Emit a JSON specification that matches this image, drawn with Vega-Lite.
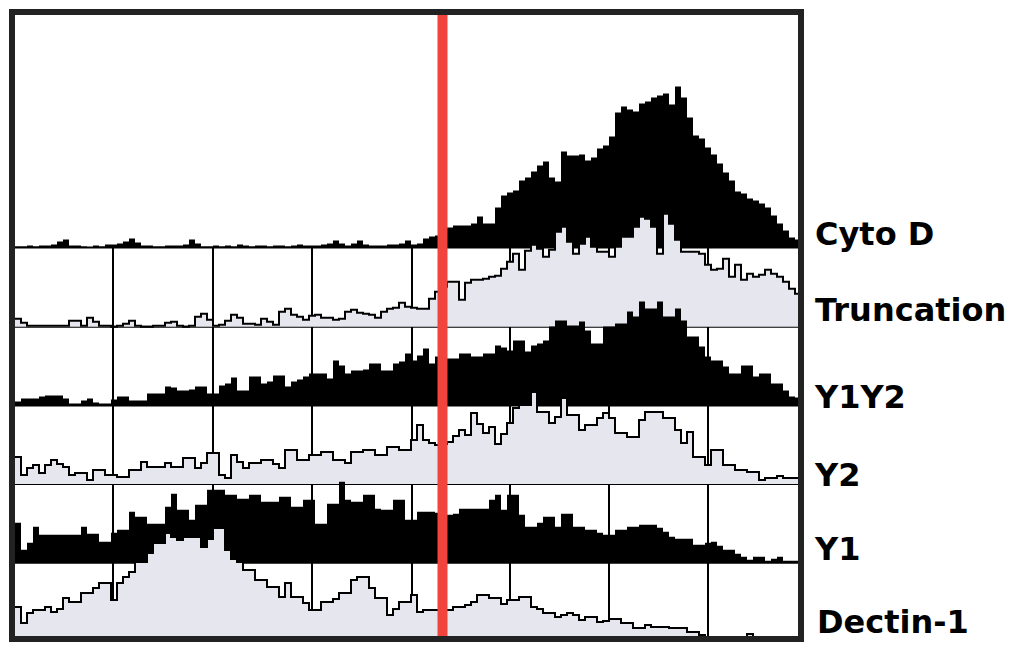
{
  "$schema": "https://vega.github.io/schema/vega-lite/v6.json",
  "width": 789,
  "height": 627,
  "autosize": {"type": "none"},
  "padding": {"left": 12, "top": 12, "right": 218, "bottom": 7},
  "background": "white",
  "config": {"view": {"stroke": null}, "axis": {"disable": true}},
  "data": {"values": [
    {"x":0,"CytoD":0,"Truncation":8,"Y1Y2":3,"Y2":27,"Y1":40,"Dectin1":32},
    {"x":6,"CytoD":1,"Truncation":8,"Y1Y2":4,"Y2":27,"Y1":40,"Dectin1":32},
    {"x":12,"CytoD":1,"Truncation":4,"Y1Y2":7,"Y2":9,"Y1":13,"Dectin1":16},
    {"x":18,"CytoD":2,"Truncation":1,"Y1Y2":7,"Y2":16,"Y1":20,"Dectin1":26},
    {"x":24,"CytoD":1,"Truncation":1,"Y1Y2":7,"Y2":19,"Y1":36,"Dectin1":29},
    {"x":30,"CytoD":2,"Truncation":1,"Y1Y2":9,"Y2":11,"Y1":28,"Dectin1":29},
    {"x":36,"CytoD":2,"Truncation":1,"Y1Y2":10,"Y2":19,"Y1":28,"Dectin1":32},
    {"x":42,"CytoD":3,"Truncation":1,"Y1Y2":10,"Y2":24,"Y1":28,"Dectin1":27},
    {"x":48,"CytoD":6,"Truncation":1,"Y1Y2":10,"Y2":20,"Y1":28,"Dectin1":30},
    {"x":54,"CytoD":8,"Truncation":1,"Y1Y2":7,"Y2":17,"Y1":28,"Dectin1":41},
    {"x":60,"CytoD":2,"Truncation":6,"Y1Y2":2,"Y2":9,"Y1":28,"Dectin1":37},
    {"x":66,"CytoD":2,"Truncation":6,"Y1Y2":2,"Y2":11,"Y1":28,"Dectin1":37},
    {"x":72,"CytoD":1,"Truncation":1,"Y1Y2":5,"Y2":11,"Y1":36,"Dectin1":46},
    {"x":78,"CytoD":0,"Truncation":9,"Y1Y2":7,"Y2":4,"Y1":29,"Dectin1":46},
    {"x":84,"CytoD":2,"Truncation":5,"Y1Y2":3,"Y2":14,"Y1":29,"Dectin1":51},
    {"x":90,"CytoD":1,"Truncation":1,"Y1Y2":2,"Y2":14,"Y1":21,"Dectin1":56},
    {"x":96,"CytoD":3,"Truncation":1,"Y1Y2":2,"Y2":9,"Y1":21,"Dectin1":56},
    {"x":102,"CytoD":3,"Truncation":0,"Y1Y2":6,"Y2":9,"Y1":30,"Dectin1":39},
    {"x":108,"CytoD":4,"Truncation":1,"Y1Y2":9,"Y2":7,"Y1":33,"Dectin1":56},
    {"x":114,"CytoD":6,"Truncation":3,"Y1Y2":9,"Y2":7,"Y1":33,"Dectin1":62},
    {"x":120,"CytoD":9,"Truncation":6,"Y1Y2":5,"Y2":14,"Y1":51,"Dectin1":67},
    {"x":126,"CytoD":5,"Truncation":1,"Y1Y2":5,"Y2":14,"Y1":46,"Dectin1":77},
    {"x":132,"CytoD":2,"Truncation":0,"Y1Y2":5,"Y2":22,"Y1":46,"Dectin1":77},
    {"x":138,"CytoD":2,"Truncation":0,"Y1Y2":12,"Y2":17,"Y1":39,"Dectin1":86},
    {"x":144,"CytoD":1,"Truncation":1,"Y1Y2":12,"Y2":17,"Y1":39,"Dectin1":96},
    {"x":150,"CytoD":1,"Truncation":1,"Y1Y2":12,"Y2":17,"Y1":39,"Dectin1":96},
    {"x":156,"CytoD":2,"Truncation":4,"Y1Y2":19,"Y2":21,"Y1":56,"Dectin1":106},
    {"x":162,"CytoD":2,"Truncation":5,"Y1Y2":18,"Y2":17,"Y1":69,"Dectin1":102},
    {"x":168,"CytoD":2,"Truncation":1,"Y1Y2":15,"Y2":17,"Y1":53,"Dectin1":99},
    {"x":174,"CytoD":3,"Truncation":0,"Y1Y2":15,"Y2":26,"Y1":53,"Dectin1":102},
    {"x":180,"CytoD":8,"Truncation":1,"Y1Y2":16,"Y2":26,"Y1":43,"Dectin1":102},
    {"x":186,"CytoD":4,"Truncation":10,"Y1Y2":19,"Y2":16,"Y1":58,"Dectin1":102},
    {"x":192,"CytoD":1,"Truncation":13,"Y1Y2":19,"Y2":21,"Y1":58,"Dectin1":92},
    {"x":198,"CytoD":1,"Truncation":7,"Y1Y2":12,"Y2":31,"Y1":73,"Dectin1":100},
    {"x":204,"CytoD":2,"Truncation":1,"Y1Y2":12,"Y2":31,"Y1":73,"Dectin1":111},
    {"x":210,"CytoD":1,"Truncation":2,"Y1Y2":20,"Y2":9,"Y1":73,"Dectin1":111},
    {"x":216,"CytoD":2,"Truncation":6,"Y1Y2":22,"Y2":6,"Y1":68,"Dectin1":89},
    {"x":222,"CytoD":1,"Truncation":12,"Y1Y2":28,"Y2":29,"Y1":68,"Dectin1":80},
    {"x":228,"CytoD":3,"Truncation":9,"Y1Y2":15,"Y2":22,"Y1":64,"Dectin1":77},
    {"x":234,"CytoD":2,"Truncation":3,"Y1Y2":15,"Y2":16,"Y1":64,"Dectin1":69},
    {"x":240,"CytoD":1,"Truncation":3,"Y1Y2":29,"Y2":21,"Y1":68,"Dectin1":69},
    {"x":246,"CytoD":2,"Truncation":2,"Y1Y2":29,"Y2":21,"Y1":68,"Dectin1":59},
    {"x":252,"CytoD":2,"Truncation":8,"Y1Y2":22,"Y2":24,"Y1":61,"Dectin1":59},
    {"x":258,"CytoD":1,"Truncation":5,"Y1Y2":24,"Y2":24,"Y1":61,"Dectin1":52},
    {"x":264,"CytoD":2,"Truncation":2,"Y1Y2":30,"Y2":20,"Y1":61,"Dectin1":52},
    {"x":270,"CytoD":2,"Truncation":15,"Y1Y2":30,"Y2":16,"Y1":66,"Dectin1":42},
    {"x":276,"CytoD":1,"Truncation":18,"Y1Y2":19,"Y2":34,"Y1":66,"Dectin1":56},
    {"x":282,"CytoD":2,"Truncation":12,"Y1Y2":24,"Y2":34,"Y1":56,"Dectin1":42},
    {"x":288,"CytoD":3,"Truncation":10,"Y1Y2":26,"Y2":24,"Y1":56,"Dectin1":42},
    {"x":294,"CytoD":2,"Truncation":7,"Y1Y2":29,"Y2":24,"Y1":63,"Dectin1":36},
    {"x":300,"CytoD":2,"Truncation":11,"Y1Y2":32,"Y2":29,"Y1":63,"Dectin1":29},
    {"x":306,"CytoD":2,"Truncation":12,"Y1Y2":32,"Y2":29,"Y1":39,"Dectin1":29},
    {"x":312,"CytoD":3,"Truncation":9,"Y1Y2":32,"Y2":32,"Y1":39,"Dectin1":37},
    {"x":318,"CytoD":4,"Truncation":9,"Y1Y2":27,"Y2":32,"Y1":59,"Dectin1":37},
    {"x":324,"CytoD":7,"Truncation":7,"Y1Y2":45,"Y2":24,"Y1":59,"Dectin1":40},
    {"x":330,"CytoD":4,"Truncation":8,"Y1Y2":40,"Y2":24,"Y1":81,"Dectin1":46},
    {"x":336,"CytoD":2,"Truncation":15,"Y1Y2":32,"Y2":21,"Y1":63,"Dectin1":46},
    {"x":342,"CytoD":4,"Truncation":17,"Y1Y2":35,"Y2":32,"Y1":61,"Dectin1":59},
    {"x":348,"CytoD":7,"Truncation":14,"Y1Y2":35,"Y2":32,"Y1":61,"Dectin1":62},
    {"x":354,"CytoD":3,"Truncation":13,"Y1Y2":36,"Y2":34,"Y1":68,"Dectin1":62},
    {"x":360,"CytoD":2,"Truncation":12,"Y1Y2":42,"Y2":34,"Y1":68,"Dectin1":51},
    {"x":366,"CytoD":2,"Truncation":9,"Y1Y2":42,"Y2":29,"Y1":54,"Dectin1":41},
    {"x":372,"CytoD":2,"Truncation":15,"Y1Y2":35,"Y2":29,"Y1":53,"Dectin1":41},
    {"x":378,"CytoD":3,"Truncation":18,"Y1Y2":35,"Y2":37,"Y1":53,"Dectin1":24},
    {"x":384,"CytoD":3,"Truncation":19,"Y1Y2":42,"Y2":37,"Y1":63,"Dectin1":30},
    {"x":390,"CytoD":4,"Truncation":24,"Y1Y2":44,"Y2":34,"Y1":63,"Dectin1":37},
    {"x":396,"CytoD":7,"Truncation":20,"Y1Y2":52,"Y2":34,"Y1":43,"Dectin1":37},
    {"x":402,"CytoD":3,"Truncation":19,"Y1Y2":45,"Y2":44,"Y1":43,"Dectin1":44},
    {"x":408,"CytoD":4,"Truncation":18,"Y1Y2":50,"Y2":59,"Y1":51,"Dectin1":27},
    {"x":414,"CytoD":9,"Truncation":18,"Y1Y2":57,"Y2":44,"Y1":51,"Dectin1":29},
    {"x":420,"CytoD":11,"Truncation":28,"Y1Y2":42,"Y2":41,"Y1":51,"Dectin1":29},
    {"x":426,"CytoD":12,"Truncation":35,"Y1Y2":49,"Y2":39,"Y1":50,"Dectin1":29},
    {"x":432,"CytoD":14,"Truncation":40,"Y1Y2":48,"Y2":40,"Y1":48,"Dectin1":29},
    {"x":438,"CytoD":20,"Truncation":45,"Y1Y2":47,"Y2":42,"Y1":48,"Dectin1":29},
    {"x":444,"CytoD":22,"Truncation":45,"Y1Y2":47,"Y2":48,"Y1":49,"Dectin1":32},
    {"x":450,"CytoD":22,"Truncation":27,"Y1Y2":52,"Y2":54,"Y1":54,"Dectin1":32},
    {"x":456,"CytoD":22,"Truncation":44,"Y1Y2":52,"Y2":49,"Y1":54,"Dectin1":34},
    {"x":462,"CytoD":24,"Truncation":47,"Y1Y2":49,"Y2":71,"Y1":54,"Dectin1":37},
    {"x":468,"CytoD":31,"Truncation":47,"Y1Y2":49,"Y2":60,"Y1":54,"Dectin1":44},
    {"x":474,"CytoD":24,"Truncation":48,"Y1Y2":52,"Y2":51,"Y1":54,"Dectin1":44},
    {"x":480,"CytoD":24,"Truncation":50,"Y1Y2":52,"Y2":57,"Y1":63,"Dectin1":41},
    {"x":486,"CytoD":40,"Truncation":51,"Y1Y2":60,"Y2":40,"Y1":68,"Dectin1":41},
    {"x":492,"CytoD":52,"Truncation":58,"Y1Y2":58,"Y2":50,"Y1":53,"Dectin1":35},
    {"x":498,"CytoD":55,"Truncation":65,"Y1Y2":55,"Y2":61,"Y1":68,"Dectin1":39},
    {"x":504,"CytoD":57,"Truncation":73,"Y1Y2":65,"Y2":76,"Y1":68,"Dectin1":39},
    {"x":510,"CytoD":67,"Truncation":57,"Y1Y2":65,"Y2":79,"Y1":48,"Dectin1":42},
    {"x":516,"CytoD":70,"Truncation":76,"Y1Y2":54,"Y2":79,"Y1":36,"Dectin1":42},
    {"x":522,"CytoD":76,"Truncation":82,"Y1Y2":60,"Y2":92,"Y1":36,"Dectin1":32},
    {"x":528,"CytoD":82,"Truncation":78,"Y1Y2":62,"Y2":72,"Y1":40,"Dectin1":30},
    {"x":534,"CytoD":86,"Truncation":70,"Y1Y2":65,"Y2":72,"Y1":46,"Dectin1":26},
    {"x":540,"CytoD":70,"Truncation":77,"Y1Y2":79,"Y2":61,"Y1":46,"Dectin1":26},
    {"x":546,"CytoD":66,"Truncation":95,"Y1Y2":85,"Y2":67,"Y1":36,"Dectin1":22},
    {"x":552,"CytoD":96,"Truncation":100,"Y1Y2":85,"Y2":86,"Y1":49,"Dectin1":24},
    {"x":558,"CytoD":92,"Truncation":85,"Y1Y2":80,"Y2":69,"Y1":49,"Dectin1":26},
    {"x":564,"CytoD":92,"Truncation":73,"Y1Y2":80,"Y2":69,"Y1":36,"Dectin1":24},
    {"x":570,"CytoD":93,"Truncation":83,"Y1Y2":84,"Y2":54,"Y1":36,"Dectin1":19},
    {"x":576,"CytoD":87,"Truncation":90,"Y1Y2":75,"Y2":59,"Y1":33,"Dectin1":22},
    {"x":582,"CytoD":90,"Truncation":80,"Y1Y2":62,"Y2":59,"Y1":33,"Dectin1":22},
    {"x":588,"CytoD":99,"Truncation":75,"Y1Y2":62,"Y2":66,"Y1":30,"Dectin1":17},
    {"x":594,"CytoD":102,"Truncation":75,"Y1Y2":79,"Y2":71,"Y1":28,"Dectin1":18},
    {"x":600,"CytoD":111,"Truncation":70,"Y1Y2":79,"Y2":66,"Y1":28,"Dectin1":20},
    {"x":606,"CytoD":135,"Truncation":80,"Y1Y2":82,"Y2":51,"Y1":33,"Dectin1":20},
    {"x":612,"CytoD":141,"Truncation":90,"Y1Y2":82,"Y2":51,"Y1":33,"Dectin1":16},
    {"x":618,"CytoD":138,"Truncation":90,"Y1Y2":94,"Y2":47,"Y1":36,"Dectin1":16},
    {"x":624,"CytoD":136,"Truncation":100,"Y1Y2":89,"Y2":47,"Y1":36,"Dectin1":11},
    {"x":630,"CytoD":144,"Truncation":110,"Y1Y2":104,"Y2":64,"Y1":38,"Dectin1":11},
    {"x":636,"CytoD":146,"Truncation":108,"Y1Y2":97,"Y2":72,"Y1":38,"Dectin1":14},
    {"x":642,"CytoD":150,"Truncation":100,"Y1Y2":97,"Y2":72,"Y1":38,"Dectin1":12},
    {"x":648,"CytoD":152,"Truncation":73,"Y1Y2":104,"Y2":72,"Y1":35,"Dectin1":12},
    {"x":654,"CytoD":154,"Truncation":113,"Y1Y2":89,"Y2":66,"Y1":31,"Dectin1":12},
    {"x":660,"CytoD":143,"Truncation":103,"Y1Y2":89,"Y2":66,"Y1":26,"Dectin1":11},
    {"x":666,"CytoD":161,"Truncation":87,"Y1Y2":97,"Y2":54,"Y1":24,"Dectin1":11},
    {"x":672,"CytoD":150,"Truncation":75,"Y1Y2":85,"Y2":41,"Y1":24,"Dectin1":11},
    {"x":678,"CytoD":130,"Truncation":75,"Y1Y2":69,"Y2":52,"Y1":24,"Dectin1":7},
    {"x":684,"CytoD":112,"Truncation":75,"Y1Y2":69,"Y2":27,"Y1":18,"Dectin1":7},
    {"x":690,"CytoD":109,"Truncation":73,"Y1Y2":59,"Y2":27,"Y1":18,"Dectin1":4},
    {"x":696,"CytoD":100,"Truncation":62,"Y1Y2":49,"Y2":19,"Y1":20,"Dectin1":2},
    {"x":702,"CytoD":93,"Truncation":57,"Y1Y2":45,"Y2":34,"Y1":21,"Dectin1":0},
    {"x":708,"CytoD":84,"Truncation":58,"Y1Y2":45,"Y2":34,"Y1":17,"Dectin1":0},
    {"x":714,"CytoD":75,"Truncation":68,"Y1Y2":39,"Y2":19,"Y1":13,"Dectin1":0},
    {"x":720,"CytoD":67,"Truncation":50,"Y1Y2":32,"Y2":19,"Y1":13,"Dectin1":0},
    {"x":726,"CytoD":56,"Truncation":62,"Y1Y2":32,"Y2":14,"Y1":9,"Dectin1":0},
    {"x":732,"CytoD":54,"Truncation":47,"Y1Y2":40,"Y2":14,"Y1":6,"Dectin1":0},
    {"x":738,"CytoD":49,"Truncation":53,"Y1Y2":40,"Y2":12,"Y1":3,"Dectin1":5},
    {"x":744,"CytoD":47,"Truncation":50,"Y1Y2":29,"Y2":12,"Y1":6,"Dectin1":0},
    {"x":750,"CytoD":44,"Truncation":52,"Y1Y2":32,"Y2":4,"Y1":6,"Dectin1":0},
    {"x":756,"CytoD":40,"Truncation":57,"Y1Y2":32,"Y2":6,"Y1":2,"Dectin1":0},
    {"x":762,"CytoD":32,"Truncation":53,"Y1Y2":22,"Y2":6,"Y1":4,"Dectin1":0},
    {"x":768,"CytoD":24,"Truncation":50,"Y1Y2":22,"Y2":8,"Y1":6,"Dectin1":0},
    {"x":774,"CytoD":17,"Truncation":45,"Y1Y2":15,"Y2":6,"Y1":2,"Dectin1":0},
    {"x":780,"CytoD":10,"Truncation":38,"Y1Y2":9,"Y2":6,"Y1":2,"Dectin1":0},
    {"x":786,"CytoD":8,"Truncation":33,"Y1Y2":8,"Y2":6,"Y1":2,"Dectin1":0}
  ]},
  "layer": [
    {
      "layer": [
        {
          "data": {"values": [{"g":101},{"g":201},{"g":300},{"g":400},{"g":498},{"g":597},{"g":696}]},
          "mark": {"type": "rule", "color": "black", "strokeWidth": 2},
          "encoding": {
            "x": {"field": "g", "type": "quantitative", "scale": {"domain": [0, 789], "nice": false, "zero": false}, "axis": null},
            "y": {"datum": 0, "type": "quantitative", "scale": {"domain": [-391.5, 235.5], "nice": false, "zero": false}, "axis": null},
            "y2": {"datum": -391.5}
          }
        },
        {
          "data": {"values": [{}]},
          "mark": {"type": "rule", "color": "black", "strokeWidth": 2},
          "encoding": {"y": {"datum": 0, "type": "quantitative", "scale": {"domain": [-391.5, 235.5], "nice": false, "zero": false}, "axis": null}}
        },
        {
          "mark": {"type": "area", "interpolate": "step", "color": "black"},
          "encoding": {
            "x": {"field": "x", "type": "quantitative", "scale": {"domain": [0, 789], "nice": false, "zero": false}, "axis": null},
            "y": {"field": "CytoD", "type": "quantitative", "scale": {"domain": [-391.5, 235.5], "nice": false, "zero": false}, "axis": null},
            "y2": {"datum": 0}
          }
        },
        {
          "data": {"values": [{"label": "Cyto D"}]},
          "mark": {"type": "text", "font": "DejaVu Sans", "fontWeight": "bold", "fontSize": 32, "align": "left", "baseline": "alphabetic", "color": "black", "dy": -3},
          "encoding": {
            "x": {"datum": 803, "type": "quantitative", "scale": {"domain": [0, 789], "nice": false, "zero": false}, "axis": null},
            "y": {"datum": 0, "type": "quantitative", "scale": {"domain": [-391.5, 235.5], "nice": false, "zero": false}, "axis": null},
            "text": {"field": "label"}
          }
        }
      ]
    },
    {
      "layer": [
        {
          "data": {"values": [{}]},
          "mark": {"type": "rule", "color": "black", "strokeWidth": 2},
          "encoding": {"y": {"datum": 0, "type": "quantitative", "scale": {"domain": [-312.3, 314.7], "nice": false, "zero": false}, "axis": null}}
        },
        {
          "mark": {"type": "area", "interpolate": "step", "color": "#e6e6ee"},
          "encoding": {
            "x": {"field": "x", "type": "quantitative", "scale": {"domain": [0, 789], "nice": false, "zero": false}, "axis": null},
            "y": {"field": "Truncation", "type": "quantitative", "scale": {"domain": [-312.3, 314.7], "nice": false, "zero": false}, "axis": null},
            "y2": {"datum": 0}
          }
        },
        {
          "mark": {"type": "line", "interpolate": "step", "color": "black", "strokeWidth": 2},
          "encoding": {
            "x": {"field": "x", "type": "quantitative", "scale": {"domain": [0, 789], "nice": false, "zero": false}, "axis": null},
            "y": {"field": "Truncation", "type": "quantitative", "scale": {"domain": [-312.3, 314.7], "nice": false, "zero": false}, "axis": null}
          }
        },
        {
          "data": {"values": [{"label": "Truncation"}]},
          "mark": {"type": "text", "font": "DejaVu Sans", "fontWeight": "bold", "fontSize": 32, "align": "left", "baseline": "alphabetic", "color": "black", "dy": -6},
          "encoding": {
            "x": {"datum": 803, "type": "quantitative", "scale": {"domain": [0, 789], "nice": false, "zero": false}, "axis": null},
            "y": {"datum": 0, "type": "quantitative", "scale": {"domain": [-312.3, 314.7], "nice": false, "zero": false}, "axis": null},
            "text": {"field": "label"}
          }
        }
      ]
    },
    {
      "layer": [
        {
          "data": {"values": [{}]},
          "mark": {"type": "rule", "color": "black", "strokeWidth": 2},
          "encoding": {"y": {"datum": 0, "type": "quantitative", "scale": {"domain": [-233.5, 393.5], "nice": false, "zero": false}, "axis": null}}
        },
        {
          "mark": {"type": "area", "interpolate": "step", "color": "black"},
          "encoding": {
            "x": {"field": "x", "type": "quantitative", "scale": {"domain": [0, 789], "nice": false, "zero": false}, "axis": null},
            "y": {"field": "Y1Y2", "type": "quantitative", "scale": {"domain": [-233.5, 393.5], "nice": false, "zero": false}, "axis": null},
            "y2": {"datum": 0}
          }
        },
        {
          "data": {"values": [{"label": "Y1Y2"}]},
          "mark": {"type": "text", "font": "DejaVu Sans", "fontWeight": "bold", "fontSize": 32, "align": "left", "baseline": "alphabetic", "color": "black", "dy": 2},
          "encoding": {
            "x": {"datum": 803, "type": "quantitative", "scale": {"domain": [0, 789], "nice": false, "zero": false}, "axis": null},
            "y": {"datum": 0, "type": "quantitative", "scale": {"domain": [-233.5, 393.5], "nice": false, "zero": false}, "axis": null},
            "text": {"field": "label"}
          }
        }
      ]
    },
    {
      "layer": [
        {
          "data": {"values": [{}]},
          "mark": {"type": "rule", "color": "black", "strokeWidth": 2},
          "encoding": {"y": {"datum": 0, "type": "quantitative", "scale": {"domain": [-155, 472], "nice": false, "zero": false}, "axis": null}}
        },
        {
          "mark": {"type": "area", "interpolate": "step", "color": "#e6e6ee"},
          "encoding": {
            "x": {"field": "x", "type": "quantitative", "scale": {"domain": [0, 789], "nice": false, "zero": false}, "axis": null},
            "y": {"field": "Y2", "type": "quantitative", "scale": {"domain": [-155, 472], "nice": false, "zero": false}, "axis": null},
            "y2": {"datum": 0}
          }
        },
        {
          "mark": {"type": "line", "interpolate": "step", "color": "black", "strokeWidth": 2},
          "encoding": {
            "x": {"field": "x", "type": "quantitative", "scale": {"domain": [0, 789], "nice": false, "zero": false}, "axis": null},
            "y": {"field": "Y2", "type": "quantitative", "scale": {"domain": [-155, 472], "nice": false, "zero": false}, "axis": null}
          }
        },
        {
          "data": {"values": [{"label": "Y2"}]},
          "mark": {"type": "text", "font": "DejaVu Sans", "fontWeight": "bold", "fontSize": 32, "align": "left", "baseline": "alphabetic", "color": "black", "dy": 2},
          "encoding": {
            "x": {"datum": 803, "type": "quantitative", "scale": {"domain": [0, 789], "nice": false, "zero": false}, "axis": null},
            "y": {"datum": 0, "type": "quantitative", "scale": {"domain": [-155, 472], "nice": false, "zero": false}, "axis": null},
            "text": {"field": "label"}
          }
        }
      ]
    },
    {
      "layer": [
        {
          "data": {"values": [{}]},
          "mark": {"type": "rule", "color": "black", "strokeWidth": 2},
          "encoding": {"y": {"datum": 0, "type": "quantitative", "scale": {"domain": [-76.3, 550.7], "nice": false, "zero": false}, "axis": null}}
        },
        {
          "mark": {"type": "area", "interpolate": "step", "color": "black"},
          "encoding": {
            "x": {"field": "x", "type": "quantitative", "scale": {"domain": [0, 789], "nice": false, "zero": false}, "axis": null},
            "y": {"field": "Y1", "type": "quantitative", "scale": {"domain": [-76.3, 550.7], "nice": false, "zero": false}, "axis": null},
            "y2": {"datum": 0}
          }
        },
        {
          "data": {"values": [{"label": "Y1"}]},
          "mark": {"type": "text", "font": "DejaVu Sans", "fontWeight": "bold", "fontSize": 32, "align": "left", "baseline": "alphabetic", "color": "black", "dy": -3},
          "encoding": {
            "x": {"datum": 803, "type": "quantitative", "scale": {"domain": [0, 789], "nice": false, "zero": false}, "axis": null},
            "y": {"datum": 0, "type": "quantitative", "scale": {"domain": [-76.3, 550.7], "nice": false, "zero": false}, "axis": null},
            "text": {"field": "label"}
          }
        }
      ]
    },
    {
      "layer": [
        {
          "mark": {"type": "area", "interpolate": "step", "color": "#e6e6ee"},
          "encoding": {
            "x": {"field": "x", "type": "quantitative", "scale": {"domain": [0, 789], "nice": false, "zero": false}, "axis": null},
            "y": {"field": "Dectin1", "type": "quantitative", "scale": {"domain": [0, 627], "nice": false, "zero": false}, "axis": null},
            "y2": {"datum": 0}
          }
        },
        {
          "mark": {"type": "line", "interpolate": "step", "color": "black", "strokeWidth": 2},
          "encoding": {
            "x": {"field": "x", "type": "quantitative", "scale": {"domain": [0, 789], "nice": false, "zero": false}, "axis": null},
            "y": {"field": "Dectin1", "type": "quantitative", "scale": {"domain": [0, 627], "nice": false, "zero": false}, "axis": null}
          }
        },
        {
          "data": {"values": [{"label": "Dectin-1"}]},
          "mark": {"type": "text", "font": "DejaVu Sans", "fontWeight": "bold", "fontSize": 32, "align": "left", "baseline": "alphabetic", "color": "black", "dy": -6},
          "encoding": {
            "x": {"datum": 805, "type": "quantitative", "scale": {"domain": [0, 789], "nice": false, "zero": false}, "axis": null},
            "y": {"datum": 0, "type": "quantitative", "scale": {"domain": [0, 627], "nice": false, "zero": false}, "axis": null},
            "text": {"field": "label"}
          }
        }
      ]
    },
    {
      "data": {"values": [{}]},
      "mark": {"type": "rule", "color": "#f0443c", "strokeWidth": 10},
      "encoding": {"x": {"datum": 430.5, "type": "quantitative", "scale": {"domain": [0, 789], "nice": false, "zero": false}, "axis": null}}
    },
    {
      "data": {"values": [{}]},
      "mark": {"type": "rect", "filled": false, "color": "#222222", "strokeWidth": 6},
      "encoding": {
        "x": {"datum": 0, "type": "quantitative", "scale": {"domain": [0, 789], "nice": false, "zero": false}, "axis": null},
        "x2": {"datum": 789},
        "y": {"datum": 0, "type": "quantitative", "scale": {"domain": [0, 1], "nice": false, "zero": false}, "axis": null},
        "y2": {"datum": 1}
      }
    }
  ],
  "resolve": {"scale": {"y": "independent"}}
}
